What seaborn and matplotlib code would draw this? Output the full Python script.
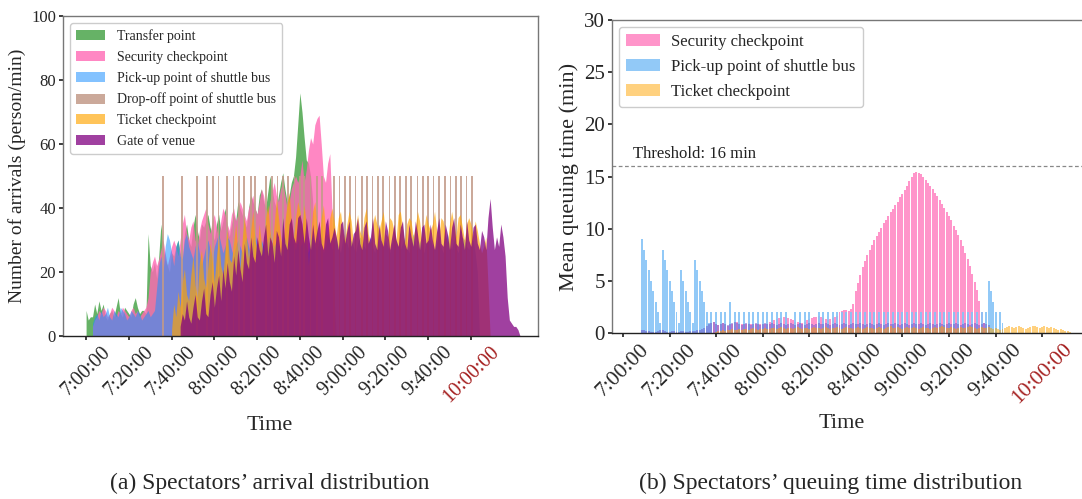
import numpy as np
import pandas as pd
import seaborn as sns
import matplotlib
matplotlib.use("Agg")
import matplotlib.pyplot as plt

# ---------------- data: (a) arrivals per minute (minutes after 7:00) ----------------
transfer_start = 0
transfer = [8,5,6,6,10,7,11,8,10,6,5,7,8,6,9,12,7,6,9,8,7,6,10,12,9,7,8,8,7,
            32,22,20,23,18,25,35,28,24,22,20,26,
            25,28,30,26,24,32,35,30,28,34,38,33,30,35,34,36,38,34,32,30,
            35,38,33,36,40,34,31,35,38,36,42,40,38,36,34,40,44,42,40,38,
            44,46,42,40,45,50,46,42,40,44,48,51,46,42,44,48,50,56,66,
            76,70,62,55,54,50,42,20,0]

security_start = 3
security = [3,5,6,8,7,9,8,6,7,9,8,6,8,7,9,8,7,6,8,9,7,8,6,7,8,9,
            12,20,23,25,22,24,27,30,26,22,25,28,
            30,28,25,30,35,38,32,30,34,36,30,28,33,36,38,40,35,32,36,38,
            34,30,36,40,38,35,33,38,40,36,38,42,40,38,36,40,42,44,40,38,
            42,46,44,40,38,42,45,48,44,42,46,48,44,40,42,46,48,50,48,
            50,55,48,52,58,62,60,66,68,69,60,50,48,54,57,40,12,0]

pickup_start = 3
pickup = [4,6,7,5,8,6,7,9,6,5,8,7,6,9,8,7,5,6,8,7,6,8,7,5,6,7,8,6,7,8,
          15,22,25,20,28,32,30,26,22,28,30,25,24,30,32,28,26,24,
          28,30,26,22,25,28,30,27,24,28,30,32,29,26,28,31,30,27,25,28,
          30,28,26,29,31,28,26,30,32,29,27,30,28,26,30,32,29,28,30,27,26,29,31,28,30,32,29,27,30,28,
          29,31,28,26,30,32,28,27,30,29,26,28,31,30,27,29,31,28,26,30,32,29,27,30,28,26,29,31,30,28,
          27,29,31,28,26,30,32,29,27,30,28,26,29,31,30,28,27,29,31,28,26,30,32,29,27,30,28,26,29,31,
          30,28,27,29,31,28,26,30,32,29,27,30,28,26,29,31,30,28,27,29,30,26,20,0]

dropoff_times = [36, 45, 52, 56.5, 59.5, 62, 66, 69, 71.5, 74, 77, 79, 84, 87, 89.5, 92,
                 94.5, 97.5, 100, 102, 105, 108, 110.5, 116, 118.5, 121, 123.5, 126, 129,
                 131.5, 134, 136.5, 139, 142, 144.5, 147, 149.5, 152, 155, 157.5, 160,
                 162.5, 165, 168, 170.5, 173, 175.5, 178, 180.5]
dropoff_sizes = [50] * len(dropoff_times)

ticket_start = 40
ticket = [2,10,6,14,9,17,21,13,11,19,25,16,12,23,27,18,15,22,29,24,17,
          25,31,22,19,27,33,24,23,29,35,26,21,30,37,31,24,33,39,30,27,
          35,29,25,37,41,33,28,35,43,37,31,27,36,41,45,36,30,37,42,39,
          33,41,35,22,31,39,42,34,29,37,41,33,31,37,40,36,31,37,39,33,
          30,35,39,36,29,34,38,33,31,37,40,32,29,35,38,35,33,36,39,32,
          31,37,36,33,30,38,39,34,29,35,37,36,31,34,39,36,30,33,38,35,
          33,35,39,33,31,37,36,32,29,35,39,35,31,37,38,34,30,35,37,35,31,36,33,29,26,28,31,16,0]

gate_start = 44
gate = [3,7,5,11,6,4,9,13,6,5,11,15,7,6,13,17,9,
        15,19,11,21,15,23,17,14,25,19,27,21,17,29,23,21,31,25,23,31,
        27,25,31,35,25,31,29,23,33,31,25,37,29,27,35,37,31,29,37,38,
        35,29,37,31,27,35,29,33,36,29,27,35,37,29,31,34,31,27,35,36,
        29,33,36,28,32,33,37,29,27,34,36,29,31,37,29,27,35,30,28,36,
        33,27,31,35,30,28,34,36,29,27,35,31,28,36,32,27,34,35,29,30,
        35,30,27,33,37,29,28,35,32,27,34,37,29,28,35,31,27,36,30,28,
        34,35,29,27,33,31,27,37,43,34,27,31,28,35,31,25,12,5,4,3,3,2,0]

# ---------------- data: (b) mean queuing time per minute ----------------
q_security_start = 8
q_security = [0.3,0.3,0.2,0.2,0.2,0.1,0.1,0.1,0.2,0.3,0.2,0.1,0.1,0.1,0.2,0.2,0.1,0.1,0.1,0.2,0.2,0.1,0.1,0.1,0.2,0.2,0.3,0.3,
              0.5,0.8,1.0,1.1,0.9,0.8,0.9,1.0,0.8,0.7,0.8,0.9,1.0,1.1,1.0,0.9,0.8,0.9,1.0,0.9,0.8,0.9,1.0,0.9,0.8,0.9,1.0,1.1,1.2,1.2,
              1.3,1.4,1.4,1.5,1.5,1.4,1.3,1.2,1.1,1.1,1.0,1.0,1.1,1.2,1.3,
              1.4,1.5,1.5,1.6,1.5,1.4,1.3,1.2,1.3,1.4,1.5,1.6,
              2.0,2.1,2.2,2.2,2.1,2.3,
              2.8,4.0,4.8,5.6,6.3,6.9,7.5,8.0,8.4,8.9,9.3,9.7,10.1,10.5,10.8,11.2,11.6,11.9,12.3,12.6,
              13.0,13.3,13.7,14.1,14.6,15.0,15.3,15.4,15.3,15.2,15.0,14.7,14.4,14.1,13.8,13.4,13.1,12.7,
              12.4,12.0,11.6,11.2,10.8,10.3,9.9,9.4,8.9,8.3,7.7,7.1,6.4,5.7,4.9,4.1,3.1,2.0,1.0]

q_pickup_start = 8
q_pickup = [9,8,7,6,5,4,3,2,1, 8,7,6,5,4,3,2,1, 6,5,4,3,2,1, 7,6,5,4,3,2,1,
            2,0,2,0,2,0,2,0,3,0,2,0,2,0,2,0,2,0,2,0,
            2,0,2,0,2,0,2,0,2,0,2,0,2,0,0,0,2,0,2,0,
            2,0,2,0,0,0,2,0,2,0,2,0,2,0,2,0,2,0,2,0,
            2,0,2,0,2,0,2,0,2,0,2,0,2,0,2,0,2,0,2,0,
            2,0,2,0,2,0,2,0,2,0,2,0,2,0,2,0,2,0,2,0,
            2,0,2,0,2,0,2,0,2,0,2,0,2,0,2,0,2,0,2,
            5,4,3,2,0,2,1]

q_gate_start = 8
q_gate = [0.3,0.3,0.2,0.2,0.1,0.1,0.1,0.2,0.3,0.3,0.2,0.1,0.1,0.2,0.2,0.1,0.1,0.2,0.2,0.1,0.1,0.2,0.2,0.2,0.3,0.3,0.4,0.5,
          0.7,0.9,1.0,1.1,0.9,0.8,0.9,1.0,0.9,0.8,0.9,1.0,1.1,1.0,0.9,0.8,0.9,1.0,0.9,0.8,
          0.9,1.0,0.9,0.8,0.9,1.0,0.9,0.9,1.0,0.9,0.8,0.9,1.0,0.9,0.8,0.9,1.0,0.9,0.8,0.9,
          1.0,0.9,0.8,0.9,1.0,0.9,0.8,0.9,1.0,0.9,0.9,1.0,0.9,0.8,0.9,1.0,0.9,0.8,0.9,1.0,
          0.9,0.8,0.9,1.0,0.9,0.9,1.0,0.9,0.8,0.9,1.0,0.9,0.8,0.9,1.0,0.9,0.8,0.9,1.0,0.9,
          0.9,1.0,0.9,0.8,0.9,1.0,0.9,0.8,0.9,1.0,0.9,0.9,1.0,0.9,0.8,0.9,1.0,0.9,0.8,0.9,
          1.0,0.9,0.8,0.9,1.0,0.9,0.9,1.0,0.9,0.8,0.9,1.0,0.9,0.8,0.9,1.0,0.9,0.8,0.9,1.0,0.9,0.8]

q_ticket_start = 40
q_ticket = [0.1,0.2,0.2,0.3,0.2,0.3,0.3,0.4,0.3,0.3,0.4,0.3,0.4,0.4,0.3,0.4,0.5,0.4,0.3,0.4,
            0.4,0.5,0.4,0.4,0.5,0.5,0.4,0.5,0.6,0.5,0.4,0.5,0.5,0.4,0.5,0.6,0.5,0.4,0.5,0.5,
            0.4,0.5,0.6,0.5,0.5,0.4,0.5,0.6,0.5,0.4,0.5,0.5,0.6,0.5,0.4,0.5,0.6,0.5,0.5,0.4,
            0.5,0.6,0.5,0.4,0.5,0.6,0.5,0.5,0.4,0.5,0.6,0.5,0.4,0.5,0.6,0.7,0.5,0.5,0.6,0.5,
            0.4,0.5,0.6,0.5,0.5,0.6,0.5,0.4,0.5,0.6,0.5,0.5,0.4,0.5,0.6,0.5,0.6,0.7,0.6,0.5,
            0.5,0.6,0.5,0.4,0.5,0.6,0.5,0.5,0.6,0.7,0.6,0.5,0.4,0.5,0.6,0.5,0.5,0.6,0.5,0.4,
            0.5,0.4,0.3,0.4,0.5,0.6,0.7,0.6,0.5,0.6,0.7,0.6,0.5,0.4,0.5,0.6,0.7,0.7,0.6,0.5,
            0.6,0.7,0.6,0.5,0.6,0.5,0.4,0.3,0.4,0.3,0.2,0.2,0.1]

threshold = 16
tick_minutes = [0, 20, 40, 60, 80, 100, 120, 140, 160, 180]
tick_labels = ["7:00:00", "7:20:00", "7:40:00", "8:00:00", "8:20:00",
               "8:40:00", "9:00:00", "9:20:00", "9:40:00", "10:00:00"]
legend_order_a = ["Transfer point", "Security checkpoint", "Pick-up point of shuttle bus",
                  "Drop-off point of shuttle bus", "Ticket checkpoint", "Gate of venue"]

# ---------------- style ----------------
sns.set_theme(style="ticks")
plt.rcParams["font.family"] = ["Liberation Serif", "DejaVu Serif"]
plt.rcParams["axes.linewidth"] = 1.0

fig = plt.figure(figsize=(10.82, 4.99), dpi=100)
W, H = 1082, 499
def box(l, t, r, b):
    return [l / W, 1 - b / H, (r - l) / W, (b - t) / H]

ax1 = fig.add_axes(box(63, 16, 538, 336))
ax2 = fig.add_axes(box(612, 20, 1084, 333))

def series(start, vals):
    x = np.arange(start, start + len(vals))
    return x, np.asarray(vals, dtype=float)

# ---------------- (a) ----------------
x, y = series(transfer_start, transfer)
ax1.fill_between(x, 0, y, color="green", alpha=0.6, lw=0, label="Transfer point")
x, y = series(security_start, security)
ax1.fill_between(x, 0, y, color="hotpink", alpha=0.8, lw=0, label="Security checkpoint")
x, y = series(pickup_start, pickup)
ax1.fill_between(x, 0, y, color="dodgerblue", alpha=0.55, lw=0, label="Pick-up point of shuttle bus")
ax1.bar(dropoff_times, dropoff_sizes, width=0.8, color="#c29a88", alpha=0.85, lw=0,
        label="Drop-off point of shuttle bus")
x, y = series(ticket_start, ticket)
ax1.fill_between(x, 0, y, color="orange", alpha=0.65, lw=0, label="Ticket checkpoint")
x, y = series(gate_start, gate)
ax1.fill_between(x, 0, y, color="purple", alpha=0.75, lw=0, label="Gate of venue")

ax1.set_xlim(-10.8, 211.4)
ax1.set_ylim(0, 100)
ax1.set_yticks([0, 20, 40, 60, 80, 100])
ax1.tick_params(axis="y", labelsize=12, length=3, pad=2)
ax1.set_ylabel("Number of arrivals (person/min)", fontsize=14, labelpad=4)
h1, l1 = ax1.get_legend_handles_labels()
hmap = dict(zip(l1, h1))
ax1.legend([hmap[k] for k in legend_order_a], legend_order_a,
           loc="upper left", fontsize=10, frameon=True, fancybox=True,
           edgecolor="#cccccc", framealpha=1, labelspacing=0.55,
           handlelength=2.1, handleheight=0.75, handletextpad=0.85,
           borderpad=0.45, borderaxespad=0.5)

# ---------------- (b) ----------------
def qframe(start, vals):
    x, y = series(start, vals)
    return pd.DataFrame({"minute": x, "value": y})

sns.barplot(data=qframe(q_security_start, q_security), x="minute", y="value",
            native_scale=True, color="hotpink", alpha=0.7, width=0.85,
            errorbar=None, saturation=1, linewidth=0, label="Security checkpoint", ax=ax2)
sns.barplot(data=qframe(q_pickup_start, q_pickup), x="minute", y="value",
            native_scale=True, color="#86c3f7", alpha=0.9, width=0.85,
            errorbar=None, saturation=1, linewidth=0, label="Pick-up point of shuttle bus", ax=ax2)
sns.barplot(data=qframe(q_gate_start, q_gate), x="minute", y="value",
            native_scale=True, color="slateblue", alpha=0.5, width=0.85,
            errorbar=None, saturation=1, linewidth=0, ax=ax2)
sns.barplot(data=qframe(q_ticket_start, q_ticket), x="minute", y="value",
            native_scale=True, color="orange", alpha=0.5, width=0.85,
            errorbar=None, saturation=1, linewidth=0, label="Ticket checkpoint", ax=ax2)

ax2.axhline(threshold, ls=(0, (3, 2)), color="#888888", lw=0.9)
ax2.text(4.3, threshold + 0.35, "Threshold: 16 min", fontsize=12, va="bottom", ha="left",
         color="#222222")

ax2.set_xlim(-4.7, 198)
ax2.set_ylim(0, 30)
ax2.set_yticks([0, 5, 10, 15, 20, 25, 30])
ax2.tick_params(axis="y", labelsize=15, length=3, pad=2)
ax2.set_ylabel("Mean queuing time (min)", fontsize=16, labelpad=4)
handles, labels = ax2.get_legend_handles_labels()
ax2.legend(handles, labels, loc="upper left", fontsize=12, frameon=True, fancybox=True,
           edgecolor="#cccccc", framealpha=1, labelspacing=0.52,
           handlelength=2.0, handleheight=0.75, handletextpad=0.7,
           borderpad=0.45, borderaxespad=0.4)

# ---------------- shared x formatting ----------------
for ax, fs, lblx, lbly in [(ax1, 14.5, 0.436, -0.25), (ax2, 15.5, 0.487, -0.26)]:
    ax.set_xticks(tick_minutes)
    ax.set_xticklabels(tick_labels, rotation=45, ha="center", fontsize=fs)
    ax.get_xticklabels()[-1].set_color("#a52020")
    ax.tick_params(axis="x", length=3, pad=2)
    ax.set_xlabel("Time", fontsize=16)
    ax.xaxis.set_label_coords(lblx, lbly)
    for s in ["top", "right", "left"]:
        ax.spines[s].set_color("#777777")
    ax.spines["bottom"].set_color("#222222")
    ax.set_facecolor("white")

fig.text(0.249, 0.032, "(a) Spectators\u2019 arrival distribution", ha="center", va="center",
         fontsize=17)
fig.text(0.768, 0.032, "(b) Spectators\u2019 queuing time distribution", ha="center",
         va="center", fontsize=17)

fig.savefig("out.png", dpi=100, facecolor="white")
